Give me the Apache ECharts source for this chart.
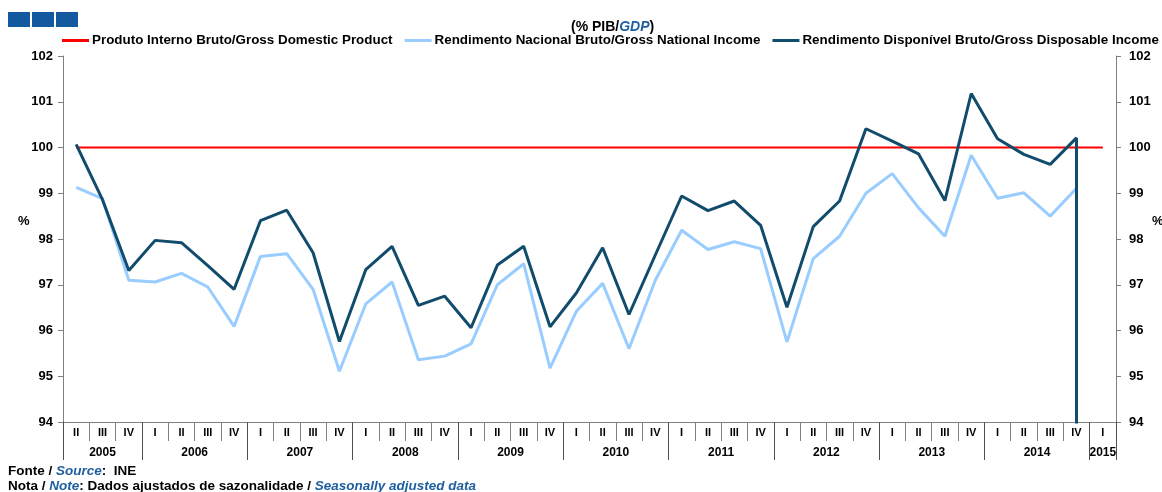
<!DOCTYPE html>
<html lang="pt">
<head>
    <meta charset="utf-8" />
    <title>Rendimento em % do PIB</title>
    <style>
        html, body { margin: 0; padding: 0; background: #fff; }
        #main { width: 1162px; height: 492px; }
    </style>
</head>
<body>
<div id="main"></div>
<script src="https://cdn.jsdelivr.net/npm/echarts@6/dist/echarts.min.js"></script>
<script type="text/javascript">
    // trimestres 2005 II .. 2015 I
    var quarters = ['II', 'III', 'IV',
        'I', 'II', 'III', 'IV', 'I', 'II', 'III', 'IV', 'I', 'II', 'III', 'IV',
        'I', 'II', 'III', 'IV', 'I', 'II', 'III', 'IV', 'I', 'II', 'III', 'IV',
        'I', 'II', 'III', 'IV', 'I', 'II', 'III', 'IV', 'I', 'II', 'III', 'IV',
        'I'];
    var years = ['2005', '2006', '2007', '2008', '2009', '2010', '2011', '2012', '2013', '2014', '2015'];
    var yearSpans = [3, 4, 4, 4, 4, 4, 4, 4, 4, 4, 1];

    // Produto Interno Bruto (base 100)
    var pib = [100, 100, 100, 100, 100, 100, 100, 100, 100, 100,
        100, 100, 100, 100, 100, 100, 100, 100, 100, 100,
        100, 100, 100, 100, 100, 100, 100, 100, 100, 100,
        100, 100, 100, 100, 100, 100, 100, 100, 100, 100];
    // Rendimento Nacional Bruto
    var rnb = [99.13, 98.88, 97.10,
        97.06, 97.25, 96.95, 96.09,
        97.62, 97.68, 96.90, 95.11,
        96.58, 97.06, 95.36, 95.44,
        95.71, 97.00, 97.46, 95.18,
        96.42, 97.03, 95.60, 97.10,
        98.19, 97.77, 97.94, 97.79,
        95.75, 97.57, 98.06, 99.00,
        99.43, 98.68, 98.06, 99.83,
        98.89, 99.01, 98.50, 99.11];
    // Rendimento Disponível Bruto
    var rdb = [100.07, 98.86, 97.31,
        97.97, 97.92, 97.42, 96.90,
        98.40, 98.63, 97.70, 95.76,
        97.33, 97.84, 96.55, 96.75,
        96.06, 97.43, 97.84, 96.08,
        96.82, 97.81, 96.35, 97.65,
        98.94, 98.62, 98.83, 98.30,
        96.51, 98.27, 98.83, 100.41,
        100.14, 99.86, 98.84, 101.18,
        100.19, 99.85, 99.63, 100.21];
    var rdbBreak = 0; // a linha cai para fora do eixo no último trimestre

    var yTicks = ['94', '95', '96', '97', '98', '99', '100', '101', '102'];

    var font = "'Liberation Sans', Arial, sans-serif";

    // limites e centros dos anos no eixo
    var yearBounds = [0];
    var yearCenters = [];
    for (var i = 0; i < yearSpans.length; i++) {
        var start = yearBounds[yearBounds.length - 1];
        yearCenters.push(start + yearSpans[i] / 2);
        yearBounds.push(start + yearSpans[i]);
    }

    var rdbData = [];
    for (var i = 0; i < rdb.length; i++) {
        rdbData.push([i, rdb[i]]);
    }
    rdbData.push([rdb.length - 1, rdbBreak]);

    var myChart = echarts.init(document.getElementById('main'));
    var option = {
        animation: false,
        textStyle: { fontFamily: font },
        title: {
            text: '{a|(% PIB/}{b|GDP}{a|)}',
            left: 566,
            top: 15,
            textStyle: {
                rich: {
                    a: { fontFamily: font, fontWeight: 'bold', fontSize: 14, color: '#000' },
                    b: { fontFamily: font, fontWeight: 'bold', fontStyle: 'italic', fontSize: 14, color: '#1f5fa0' }
                }
            }
        },
        legend: {
            left: 62,
            top: 34,
            width: 1150,
            padding: 0,
            itemWidth: 27,
            itemHeight: 3,
            itemGap: 12,
            icon: 'rect',
            textStyle: { fontFamily: font, fontWeight: 'bold', fontSize: 13.4, color: '#000', padding: [0, 0, 0, -2] },
            data: ['Produto Interno Bruto/Gross Domestic Product',
                'Rendimento Nacional Bruto/Gross National Income',
                'Rendimento Disponível Bruto/Gross Disposable Income']
        },
        grid: { left: 63, right: 46, top: 56, bottom: 70 },
        xAxis: [
            {
                type: 'category',
                data: quarters,
                boundaryGap: true,
                axisLine: { lineStyle: { color: '#808080', width: 1 } },
                axisTick: { show: true, interval: 0, length: 19, lineStyle: { color: '#808080' } },
                axisLabel: { interval: 0, margin: 5, fontFamily: font, fontWeight: 'bold', fontSize: 11, color: '#000' },
                splitLine: { show: false }
            },
            {
                type: 'value',
                position: 'bottom',
                min: 0,
                max: quarters.length,
                axisLine: { show: false },
                axisTick: {
                    show: true,
                    customValues: yearBounds,
                    length: 38,
                    lineStyle: { color: '#505050' }
                },
                axisLabel: {
                    customValues: yearCenters,
                    margin: 25,
                    fontFamily: font,
                    fontWeight: 'bold',
                    fontSize: 12,
                    color: '#000',
                    formatter: function (v) {
                        var idx = yearCenters.indexOf(v);
                        return idx >= 0 ? years[idx] : '';
                    }
                },
                splitLine: { show: false }
            }
        ],
        yAxis: [
            {
                type: 'value',
                min: 94,
                max: 102,
                interval: 1,
                position: 'left',
                axisLine: { show: true, lineStyle: { color: '#808080' } },
                axisTick: { show: true, length: 5, lineStyle: { color: '#808080' } },
                axisLabel: {
                    margin: 10, fontFamily: font, fontWeight: 'bold', fontSize: 13, color: '#000',
                    formatter: function (v) { return yTicks[v - 94]; }
                },
                splitLine: { show: false }
            },
            {
                type: 'value',
                min: 94,
                max: 102,
                interval: 1,
                position: 'right',
                axisLine: { show: true, lineStyle: { color: '#808080' } },
                axisTick: { show: true, length: 5, lineStyle: { color: '#808080' } },
                axisLabel: {
                    margin: 13, fontFamily: font, fontWeight: 'bold', fontSize: 13, color: '#000',
                    formatter: function (v) { return yTicks[v - 94]; }
                },
                splitLine: { show: false }
            }
        ],
        graphic: [
            { type: 'rect', shape: { x: 8, y: 12, width: 22, height: 15 }, style: { fill: '#13599f' } },
            { type: 'rect', shape: { x: 32, y: 12, width: 22, height: 15 }, style: { fill: '#13599f' } },
            { type: 'rect', shape: { x: 56, y: 12, width: 22, height: 15 }, style: { fill: '#13599f' } },
            { type: 'text', left: 18, top: 215, style: { text: '%', font: 'bold 13px ' + font, fill: '#000' } },
            { type: 'text', left: 1152, top: 215, style: { text: '%', font: 'bold 13px ' + font, fill: '#000' } },
            {
                type: 'text', left: 8, top: 464,
                style: {
                    text: '{a|Fonte / }{b|Source}{a|:  INE}',
                    rich: {
                        a: { fontFamily: font, fontWeight: 'bold', fontSize: 13.5, fill: '#000' },
                        b: { fontFamily: font, fontWeight: 'bold', fontStyle: 'italic', fontSize: 13.5, fill: '#1f5fa0' }
                    }
                }
            },
            {
                type: 'text', left: 8, top: 479,
                style: {
                    text: '{a|Nota / }{b|Note}{a|: Dados ajustados de sazonalidade / }{b|Seasonally adjusted data}',
                    rich: {
                        a: { fontFamily: font, fontWeight: 'bold', fontSize: 13.5, fill: '#000' },
                        b: { fontFamily: font, fontWeight: 'bold', fontStyle: 'italic', fontSize: 13.5, fill: '#1f5fa0' }
                    }
                }
            }
        ],
        series: [
            {
                name: 'Produto Interno Bruto/Gross Domestic Product',
                type: 'line',
                data: pib,
                symbol: 'none',
                color: '#ff0000',
                lineStyle: { color: '#ff0000', width: 2 },
                z: 3
            },
            {
                name: 'Rendimento Nacional Bruto/Gross National Income',
                type: 'line',
                data: rnb,
                symbol: 'none',
                color: '#99ccff',
                lineStyle: { color: '#99ccff', width: 3 },
                z: 2
            },
            {
                name: 'Rendimento Disponível Bruto/Gross Disposable Income',
                type: 'line',
                data: rdbData,
                symbol: 'none',
                color: '#124c6c',
                lineStyle: { color: '#124c6c', width: 3 },
                z: 4
            }
        ]
    };
    myChart.setOption(option);
</script>
</body>
</html>
